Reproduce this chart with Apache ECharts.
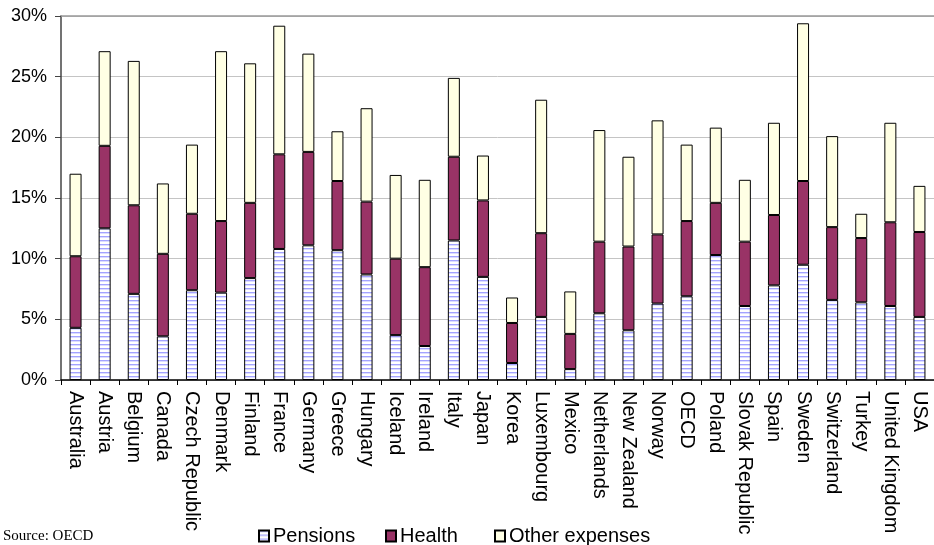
<!DOCTYPE html>
<html>
<head>
<meta charset="utf-8">
<script src="https://cdn.jsdelivr.net/npm/echarts@6/dist/echarts.min.js"></script>
<style>
  html, body { margin: 0; padding: 0; background: #ffffff; }
  #chart { width: 934px; height: 545px; }
</style>
</head>
<body>
<div id="chart"></div>
<script>
// Public social spending by country, % of GDP, split into three components
const countries = [
  'Australia', 'Austria', 'Belgium', 'Canada', 'Czech Republic', 'Denmark',
  'Finland', 'France', 'Germany', 'Greece', 'Hungary', 'Iceland', 'Ireland',
  'Italy', 'Japan', 'Korea', 'Luxembourg', 'Mexico', 'Netherlands',
  'New Zealand', 'Norway', 'OECD', 'Poland', 'Slovak Republic', 'Spain',
  'Sweden', 'Switzerland', 'Turkey', 'United Kingdom', 'USA'
];
const pensions = [
  4.3, 12.5, 7.1, 3.6, 7.4, 7.2, 8.4, 10.8, 11.1, 10.7, 8.7, 3.7, 2.8,
  11.5, 8.5, 1.4, 5.2, 0.9, 5.5, 4.1, 6.3, 6.9, 10.3, 6.1, 7.8, 9.5,
  6.6, 6.4, 6.1, 5.2
];
const health = [
  5.9, 6.8, 7.3, 6.8, 6.3, 5.9, 6.2, 7.8, 7.7, 5.7, 6.0, 6.3, 6.5,
  6.9, 6.3, 3.3, 6.9, 2.9, 5.9, 6.9, 5.7, 6.2, 4.3, 5.3, 5.8, 6.9,
  6.0, 5.3, 6.9, 7.0
];
const otherExpenses = [
  6.8, 7.8, 11.9, 5.8, 5.7, 14.0, 11.5, 10.6, 8.1, 4.1, 7.7, 6.9, 7.2,
  6.5, 3.7, 2.1, 11.0, 3.5, 9.2, 7.4, 9.4, 6.3, 6.2, 5.1, 7.6, 13.0,
  7.5, 2.0, 8.2, 3.8
];
const yMin = 0, yMax = 30, yStep = 5;
const legendNames = ['Pensions', 'Health', 'Other expenses'];

// White fill with thin horizontal blue stripes for the pensions segment
function stripePattern() {
  const c = document.createElement('canvas');
  c.width = 4; c.height = 4;
  const g = c.getContext('2d');
  g.fillStyle = '#ffffff';
  g.fillRect(0, 0, 4, 4);
  g.fillStyle = '#a3a3ff';
  g.fillRect(0, 0, 4, 1);
  g.fillStyle = '#dcdcff';
  g.fillRect(0, 1, 4, 1);
  return c;
}

const chart = echarts.init(document.getElementById('chart'), null, { renderer: 'canvas' });

const barBase = {
  type: 'bar',
  stack: 'total',
  xAxisIndex: 0,
  barWidth: 12,
  emphasis: { disabled: true }
};

// One legend block per series so each entry can sit at its own x position
const legendLefts = [253, 380, 489];
const legends = legendNames.map((name, i) => ({
  data: [name],
  left: legendLefts[i], top: 521,
  icon: 'rect',
  itemWidth: 10, itemHeight: 11,
  textStyle: { fontSize: 20, color: '#000000', padding: [0, 0, 0, -1] }
}));

chart.setOption({
  animation: false,
  textStyle: { fontFamily: '"Liberation Sans", Arial, sans-serif' },
  grid: { left: 61, top: 16, width: 882, height: 364 },
  xAxis: [
    {
      type: 'category',
      data: countries,
      axisLine: { lineStyle: { color: '#000000', width: 1.5 } },
      axisTick: { show: true, length: 5, lineStyle: { color: '#000000' } },
      axisLabel: {
        rotate: -90, interval: 0, fontSize: 20, color: '#000000', margin: 11
      }
    },
    {
      type: 'category',
      position: 'top',
      data: countries,
      axisLine: { lineStyle: { color: '#999999', width: 1.5 } },
      axisTick: { show: false },
      axisLabel: { show: false }
    }
  ],
  yAxis: {
    type: 'value',
    min: yMin, max: yMax, interval: yStep,
    axisLine: { show: true, lineStyle: { color: '#444444', width: 1.5 } },
    axisTick: { show: true, length: 6, lineStyle: { color: '#444444' } },
    splitLine: { lineStyle: { color: '#c4c4c4', width: 1 } },
    axisLabel: { formatter: '{value}%', fontSize: 18, color: '#000000', margin: 14 }
  },
  legend: legends,
  graphic: [
    {
      type: 'text',
      left: 3, top: 529,
      style: {
        text: 'Source: OECD',
        font: '15px "Liberation Serif", "Times New Roman", serif',
        fill: '#000000'
      }
    }
  ],
  series: [
    Object.assign({}, barBase, {
      name: legendNames[0],
      data: pensions,
      itemStyle: {
        color: { image: stripePattern(), repeat: 'repeat' },
        borderColor: '#000000', borderWidth: 1
      }
    }),
    Object.assign({}, barBase, {
      name: legendNames[1],
      data: health,
      itemStyle: { color: '#993366', borderColor: '#000000', borderWidth: 1 }
    }),
    Object.assign({}, barBase, {
      name: legendNames[2],
      data: otherExpenses,
      itemStyle: { color: '#ffffe4', borderColor: '#000000', borderWidth: 1 }
    })
  ]
});
</script>
</body>
</html>
